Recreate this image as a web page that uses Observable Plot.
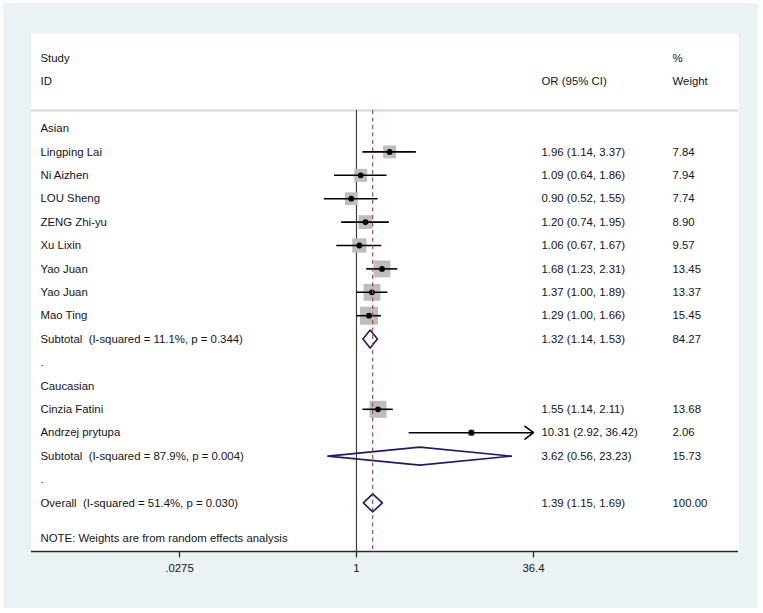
<!DOCTYPE html>
<html>
<head>
<meta charset="utf-8">
<script src="https://cdn.jsdelivr.net/npm/d3@7"></script>
<script src="https://cdn.jsdelivr.net/npm/@observablehq/plot@0.6"></script>
<style>
  html, body { margin: 0; padding: 0; background: #ffffff; }
  #wrap { position: relative; width: 763px; height: 613px; overflow: hidden; }
  #bg { position: absolute; left: 3px; top: 3px; width: 755px; height: 605px; background: #eaf2f3; }
  #chart { position: absolute; left: 0; top: 0; }
</style>
</head>
<body>
<div id="wrap"><div id="bg"></div><div id="chart"></div></div>
<script>
// ---------- data ----------
const groupNames = ["Asian", "Caucasian"];
const studyNames = ["Lingping Lai", "Ni Aizhen", "LOU Sheng", "ZENG Zhi-yu", "Xu Lixin",
  "Yao Juan", "Yao Juan", "Mao Ting", "Cinzia Fatini", "Andrzej prytupa"];
const studyGroup = [0, 0, 0, 0, 0, 0, 0, 0, 1, 1];
const studyOR = [1.96, 1.09, 0.90, 1.20, 1.06, 1.68, 1.37, 1.29, 1.55, 10.31];
const studyLo = [1.14, 0.64, 0.52, 0.74, 0.67, 1.23, 1.00, 1.00, 1.14, 2.92];
const studyHi = [3.37, 1.86, 1.55, 1.95, 1.67, 2.31, 1.89, 1.66, 2.11, 36.42];
const studyWeight = [7.84, 7.94, 7.74, 8.90, 9.57, 13.45, 13.37, 15.45, 13.68, 2.06];

const subLabels = ["Subtotal\u00a0 (I-squared = 11.1%, p = 0.344)", "Subtotal\u00a0 (I-squared = 87.9%, p = 0.004)"];
const subOR = [1.32, 3.62];
const subLo = [1.14, 0.56];
const subHi = [1.53, 23.23];
const subWeight = [84.27, 15.73];

const overallLabel = "Overall\u00a0 (I-squared = 51.4%, p = 0.030)";
const overallOR = 1.39, overallLo = 1.15, overallHi = 1.69, overallWeight = 100.00;

const noteText = "NOTE: Weights are from random effects analysis";
const headerLeft = ["Study", "ID"];
const headerOR = "OR (95% CI)";
const headerWeight = ["%", "Weight"];

const tickValues = [0.0275, 1, 36.4];
const tickLabels = [".0275", "1", "36.4"];
const xMin = 0.0275, xMax = 36.4;

// ---------- row layout ----------
const studies = [], summaries = [], labels = [];
let row = 0;
groupNames.forEach((g, gi) => {
  labels.push({row: row++, text: g});
  studyNames.forEach((name, i) => {
    if (studyGroup[i] !== gi) return;
    studies.push({row, name, or: studyOR[i], lo: studyLo[i], hi: studyHi[i], w: studyWeight[i]});
    labels.push({row, text: name});
    row++;
  });
  summaries.push({row, id: "sub" + gi, or: subOR[gi], lo: subLo[gi], hi: subHi[gi], w: subWeight[gi]});
  labels.push({row: row++, text: subLabels[gi]});
  labels.push({row: row++, text: "."});
});
summaries.push({row, id: "overall", or: overallOR, lo: overallLo, hi: overallHi, w: overallWeight});
labels.push({row: row, text: overallLabel});
const lastRow = row;

const fmt = v => v.toFixed(2);
const valueRows = [...studies, ...summaries].map(d => ({
  row: d.row,
  ci: `${fmt(d.or)} (${fmt(d.lo)}, ${fmt(d.hi)})`,
  wt: fmt(d.w)
}));

const headerRows = [-3, -2];
const sepRow = -0.77;
const axisRow = 18.08;
const halfH = 0.385;

const diamondPts = summaries.flatMap(d => [
  {id: d.id, x: d.lo, y: d.row},
  {id: d.id, x: d.or, y: d.row - halfH},
  {id: d.id, x: d.hi, y: d.row},
  {id: d.id, x: d.or, y: d.row + halfH}
]);

const inRange = studies.filter(d => d.hi <= xMax);
const clipped = studies.filter(d => d.hi > xMax).map(d => ({...d, hiDraw: xMax}));

const tickData = tickValues.map((v, i) => ({v, label: tickLabels[i]}));

const font = "Arial, 'Liberation Sans', Helvetica, sans-serif";
const fs = 11.4;
const txt = "#151515";

const plot = Plot.plot({
  width: 763,
  height: 613,
  marginLeft: 31,
  marginRight: 25,
  marginTop: 33,
  marginBottom: 62,
  style: {background: "transparent", fontFamily: font, fontSize: fs + "px", color: "#222"},
  x: {type: "log", domain: [xMin, xMax], range: [179, 533], axis: null},
  y: {type: "linear", domain: [0, lastRow], range: [128, 502.4], axis: null},
  r: {type: "sqrt", domain: [0, 16], range: [0, 4.6 * 4 / Math.sqrt(Math.PI)]},
  marks: [
    Plot.frame({fill: "white", stroke: "none"}),
    Plot.ruleY([sepRow], {stroke: "#d6d6d6", strokeWidth: 2}),
    Plot.ruleY([axisRow], {stroke: "#2a2a2a", strokeWidth: 1.4}),
    // x axis ticks + labels through the x scale
    Plot.ruleX(tickData, {x: "v", y1: axisRow, y2: axisRow + 0.27, stroke: "#2a2a2a", strokeWidth: 1.3}),
    Plot.text(tickData, {x: "v", text: "label", frameAnchor: "bottom", dy: 20,
      fill: txt, fontSize: fs}),
    // reference line at OR = 1
    Plot.ruleX([1], {y1: sepRow, y2: axisRow, stroke: "#3c3c3c", strokeWidth: 1.2}),
    // weighted squares
    Plot.dot(studies, {x: "or", y: "row", r: "w", symbol: "square", fill: "#bdbdbd", stroke: "none"}),
    // CIs
    Plot.ruleY(inRange, {y: "row", x1: "lo", x2: "hi", stroke: "#000", strokeWidth: 1.6}),
    Plot.arrow(clipped, {x1: "lo", x2: "hiDraw", y1: "row", y2: "row", bend: 0,
      headLength: 10, headAngle: 74, stroke: "#000", strokeWidth: 1.6}),
    Plot.dot(studies, {x: "or", y: "row", r: 2.9, fill: "#000", stroke: "none"}),
    // diamonds
    Plot.line(diamondPts, {x: "x", y: "y", z: "id", curve: "linear-closed",
      stroke: "#1c1c6e", strokeWidth: 1.6, fill: "none"}),
    // overall effect dashed line
    Plot.ruleX([overallOR], {y1: sepRow, y2: axisRow, stroke: "#9e3a46", strokeWidth: 1.1, strokeDasharray: "4,3.5"}),
    // texts
    Plot.text(headerLeft, {y: (d, i) => headerRows[i], text: d => d, frameAnchor: "left", dx: 9,
      textAnchor: "start", fill: txt, fontSize: fs}),
    Plot.text([headerOR], {y: [headerRows[1]], text: d => d, frameAnchor: "right", dx: -197,
      textAnchor: "start", fill: txt, fontSize: fs}),
    Plot.text(headerWeight, {y: (d, i) => headerRows[i], text: d => d, frameAnchor: "right", dx: -66,
      textAnchor: "start", fill: txt, fontSize: fs}),
    Plot.text(labels, {y: "row", text: "text", frameAnchor: "left", dx: 9, textAnchor: "start",
      fill: txt, fontSize: fs}),
    Plot.text(valueRows, {y: "row", text: "ci", frameAnchor: "right", dx: -197, textAnchor: "start",
      fill: txt, fontSize: fs}),
    Plot.text(valueRows, {y: "row", text: "wt", frameAnchor: "right", dx: -66, textAnchor: "start",
      fill: txt, fontSize: fs}),
    Plot.text([noteText], {text: d => d, frameAnchor: "bottom-left", dx: 9, dy: -10, textAnchor: "start",
      fill: txt, fontSize: fs})
  ]
});
document.getElementById("chart").appendChild(plot);
</script>
</body>
</html>
